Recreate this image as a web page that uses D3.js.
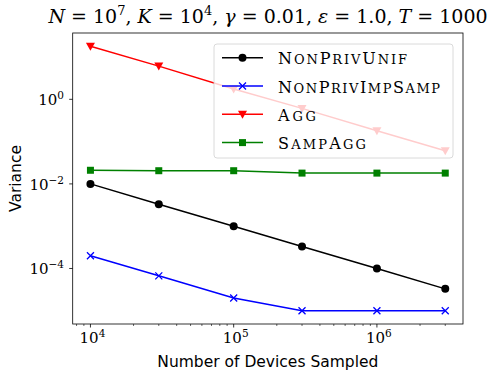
<!DOCTYPE html>
<html>
<head>
<meta charset="utf-8">
<script src="https://cdn.jsdelivr.net/npm/d3@7"></script>
<style>
  body { margin: 0; background: #fff; }
  .serif { font-family: "DejaVu Serif", "Liberation Serif", serif; }
  .sans { font-family: "DejaVu Sans", sans-serif; }
</style>
</head>
<body>
<svg id="chart" width="498" height="379"></svg>
<script>
// devices sampled
var devices = [1e4, 3e4, 1e5, 3e5, 1e6, 3e6];

var nonPrivUnif    = [0.01, 0.0033, 0.001, 0.00033, 0.0001, 0.000033];
var nonPrivImpSamp = [2e-4, 6.7e-5, 2e-5, 1e-5, 1e-5, 1e-5];
var agg            = [18, 6.1, 1.75, 0.61, 0.18, 0.061];
var sampAgg        = [0.021, 0.0205, 0.0205, 0.018, 0.018, 0.018];

var seriesNames = ["NonPrivUnif", "NonPrivImpSamp", "Agg", "SampAgg"];
var seriesColors = ["#000000", "#0000ff", "#ff0000", "#008000"];
var seriesMarkers = ["circle", "x", "triangle", "square"];
var seriesValues = [nonPrivUnif, nonPrivImpSamp, agg, sampAgg];
var legendWidths = [129, 162, 38, 88]; // label widths

var xTicks = [1e4, 1e5, 1e6];
var yTicks = [1e0, 1e-2, 1e-4];

var svg = d3.select("#chart");
var pLeft = 72.7, pRight = 463, pTop = 33, pBottom = 324;

// matplotlib style 5% margins in log space
function logPad(vals) {
    var lo = Math.log10(d3.min(vals)), hi = Math.log10(d3.max(vals));
    var m = (hi - lo) * 0.05;
    return [Math.pow(10, lo - m), Math.pow(10, hi + m)];
}
var allY = [].concat(nonPrivUnif, nonPrivImpSamp, agg, sampAgg);
var x = d3.scaleLog().domain(logPad(devices)).range([pLeft, pRight]);
var y = d3.scaleLog().domain(logPad(allY)).range([pBottom, pTop]);

// x ticks major + minor
var minor = [];
for (var e = 3; e <= 6; e++) {
    for (var k = 2; k <= 9; k++) {
        var v = k * Math.pow(10, e);
        if (v >= x.domain()[0] && v <= x.domain()[1]) minor.push(v);
    }
}
svg.append("g").selectAll("line").data(minor).enter().append("line")
    .attr("x1", function (d) { return x(d); }).attr("x2", function (d) { return x(d); })
    .attr("y1", pBottom).attr("y2", pBottom + 2)
    .attr("stroke", "#000").attr("stroke-width", 0.6);
svg.append("g").selectAll("line").data(xTicks).enter().append("line")
    .attr("x1", function (d) { return x(d); }).attr("x2", function (d) { return x(d); })
    .attr("y1", pBottom).attr("y2", pBottom + 3.5)
    .attr("stroke", "#000").attr("stroke-width", 0.8);

var xl = svg.append("g").selectAll("text").data(xTicks).enter().append("text")
    .attr("class", "serif")
    .attr("x", function (d) { return x(d) + 2; })
    .attr("y", 343)
    .attr("text-anchor", "middle")
    .style("font-size", "15px");
xl.append("tspan").text("10");
xl.append("tspan").attr("dy", -6).style("font-size", "10.5px")
    .text(function (d) { return Math.round(Math.log10(d)); });

// y ticks
svg.append("g").selectAll("line").data(yTicks).enter().append("line")
    .attr("x1", pLeft - 3.5).attr("x2", pLeft)
    .attr("y1", function (d) { return y(d); }).attr("y2", function (d) { return y(d); })
    .attr("stroke", "#000").attr("stroke-width", 0.8);
var yl = svg.append("g").selectAll("text").data(yTicks).enter().append("text")
    .attr("class", "serif")
    .attr("x", 64)
    .attr("y", function (d) { return y(d) + 6; })
    .attr("text-anchor", "end")
    .style("font-size", "15px");
yl.append("tspan").text("10");
yl.append("tspan").attr("dy", -6).style("font-size", "10.5px")
    .text(function (d) { var p = Math.round(Math.log10(d)); return p < 0 ? "\u2212" + (-p) : p; });

// lines
var line = d3.line()
    .x(function (d, i) { return x(devices[i]); })
    .y(function (d) { return y(d); });

svg.append("clipPath").attr("id", "plotclip").append("rect")
    .attr("x", pLeft).attr("y", pTop).attr("width", pRight - pLeft).attr("height", pBottom - pTop);

function drawMarker(g, type, color, cx, cy) {
    if (type === "circle") {
        g.append("circle").attr("cx", cx).attr("cy", cy).attr("r", 4).attr("fill", color);
    } else if (type === "square") {
        g.append("rect").attr("x", cx - 3.5).attr("y", cy - 3.5).attr("width", 7).attr("height", 7).attr("fill", color);
    } else if (type === "triangle") {
        g.append("path").attr("d", "M" + (cx - 4.5) + "," + (cy - 3.5) + "L" + (cx + 4.5) + "," + (cy - 3.5) + "L" + cx + "," + (cy + 4.5) + "Z")
            .attr("fill", color);
    } else if (type === "x") {
        g.append("path").attr("d", "M" + (cx - 3.5) + "," + (cy - 3.5) + "L" + (cx + 3.5) + "," + (cy + 3.5) +
            "M" + (cx - 3.5) + "," + (cy + 3.5) + "L" + (cx + 3.5) + "," + (cy - 3.5))
            .attr("stroke", color).attr("stroke-width", 1.3).attr("fill", "none");
    }
}

var plot = svg.append("g").attr("clip-path", "url(#plotclip)");
seriesValues.forEach(function (vals, s) {
    var g = plot.append("g");
    g.append("path").attr("d", line(vals))
        .attr("fill", "none").attr("stroke", seriesColors[s]).attr("stroke-width", 1.5);
    vals.forEach(function (v, i) {
        drawMarker(g, seriesMarkers[s], seriesColors[s], x(devices[i]), y(v));
    });
});

// frame
svg.append("rect").attr("x", pLeft).attr("y", pTop).attr("width", pRight - pLeft).attr("height", pBottom - pTop)
    .attr("fill", "none").attr("stroke", "#000").attr("stroke-width", 0.8);

// legend
var lg = svg.append("g");
lg.append("rect").attr("x", 214).attr("y", 44).attr("width", 239).attr("height", 114)
    .attr("rx", 3).attr("fill", "#fff").attr("fill-opacity", 0.8)
    .attr("stroke", "#d0d0d0").attr("stroke-width", 0.8);
seriesNames.forEach(function (name, s) {
    var ly = 57.7 + s * 28.3;
    lg.append("line").attr("x1", 222).attr("x2", 263).attr("y1", ly).attr("y2", ly)
        .attr("stroke", seriesColors[s]).attr("stroke-width", 1.5);
    drawMarker(lg, seriesMarkers[s], seriesColors[s], 242.5, ly);
    // hand made small caps: capitals big, lower case as smaller capitals
    var t = lg.append("text").attr("class", "serif")
        .attr("x", 278).attr("y", ly + 6.5)
        .attr("textLength", legendWidths[s])
        .style("font-size", "16px");
    name.split("").forEach(function (ch) {
        var isLow = ch !== ch.toUpperCase();
        t.append("tspan").style("font-size", isLow ? "13px" : "16px").text(ch.toUpperCase());
    });
});

// axis labels
svg.append("text").attr("class", "sans")
    .attr("x", (pLeft + pRight) / 2).attr("y", 367)
    .attr("text-anchor", "middle").style("font-size", "15.5px")
    .text("Number of Devices Sampled");
svg.append("text").attr("class", "sans")
    .attr("transform", "translate(21," + ((pTop + pBottom) / 2) + ") rotate(-90)")
    .attr("text-anchor", "middle").style("font-size", "15.5px")
    .text("Variance");

// title
var title = svg.append("text").attr("class", "serif")
    .attr("x", 268).attr("y", 23).attr("text-anchor", "middle")
    .style("font-size", "19px");
var parts = [
    ["N", "i"], [" = 10", ""], ["7", "s"], [", ", ""], ["K", "i"], [" = 10", ""], ["4", "s"],
    [", ", ""], ["\u03b3", "i"], [" = 0.01, ", ""], ["\u03b5", "i"], [" = 1.0, ", ""], ["T", "i"], [" = 1000", ""]
];
var sup = false;
parts.forEach(function (p) {
    var t = title.append("tspan").text(p[0]);
    if (p[1] === "i") t.style("font-style", "italic");
    if (p[1] === "s") { t.attr("dy", -8).style("font-size", "13px"); sup = true; }
    else if (sup) { t.attr("dy", 8); sup = false; }
});
</script>
</body>
</html>
